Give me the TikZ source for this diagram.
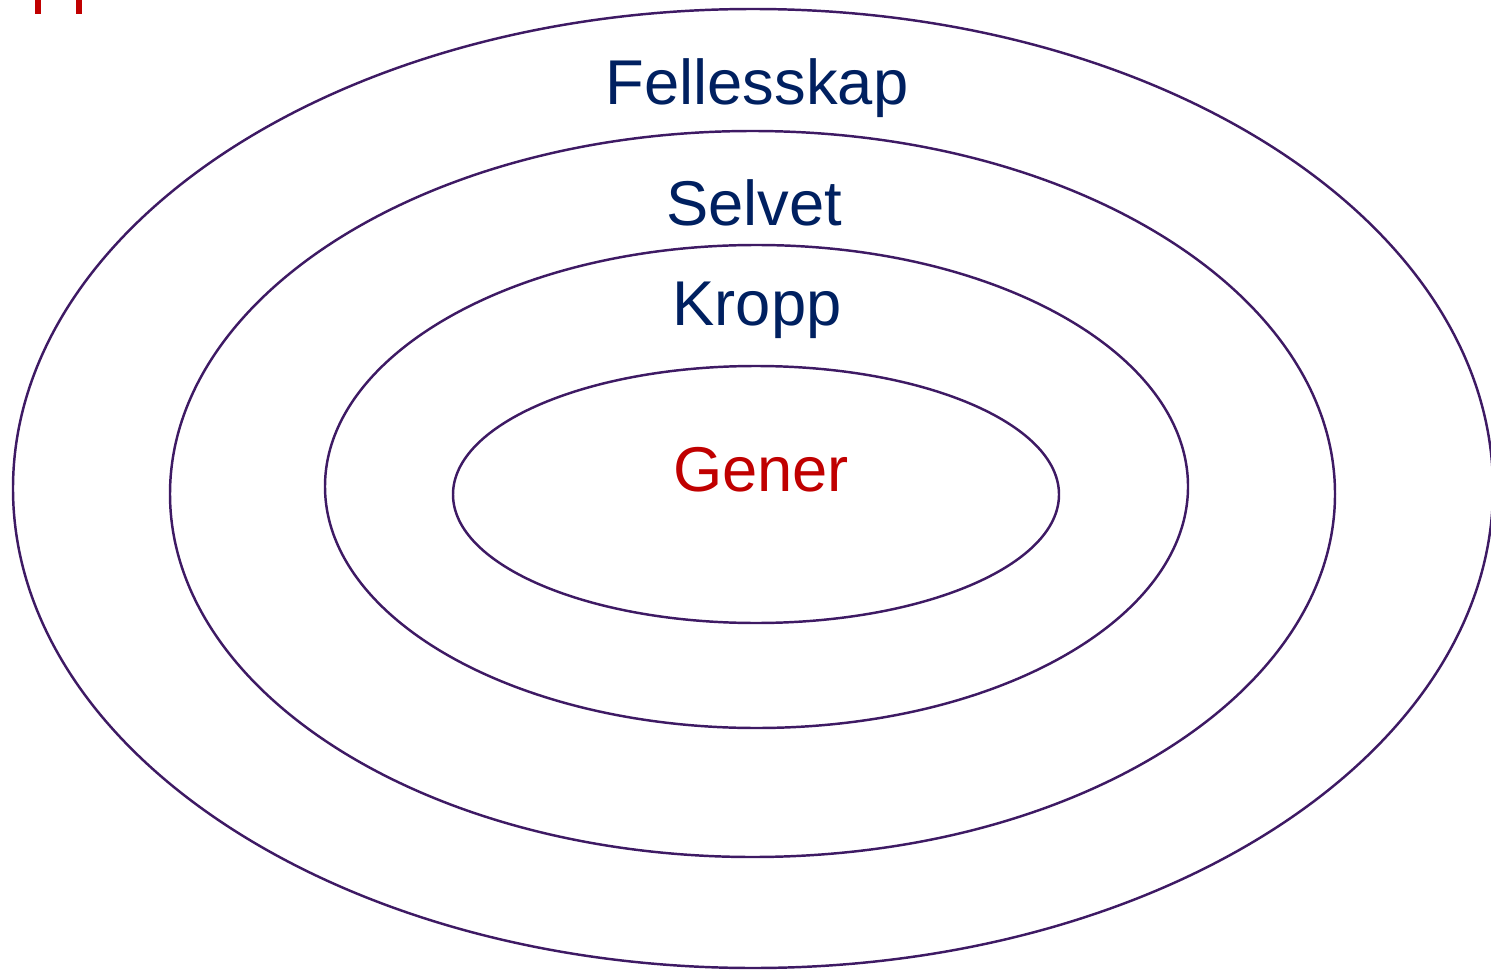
\documentclass[tikz,border=0pt]{standalone}
\usepackage{fontspec}
\setmainfont{Liberation Sans}
\definecolor{ringcol}{RGB}{62,26,100}
\definecolor{navy}{RGB}{0,32,96}
\definecolor{darkred}{RGB}{192,0,0}
\tikzset{
  ring/.style={
    draw=ringcol, line width=0.7pt
  },
  lbl/.style={
    text=navy, font=\fontsize{18}{21}\selectfont, inner sep=0mm
  },
  core/.style={
    text=darkred, font=\fontsize{18}{21}\selectfont, inner sep=0mm
  }
}

\begin{document}
\begin{tikzpicture}[x=0.01cm, y=-0.01cm]
  \useasboundingbox (0, 0) rectangle (1491, 970);
  \begin{scope}
   \clip (0, 0) rectangle (1491, 970);
   \draw[ring] (753, 488.5) ellipse [x radius=740, y radius=479.5];
   \draw[ring] (752.5, 494) ellipse [x radius=582.5, y radius=363];
   \draw[ring] (756.5, 486.5) ellipse [x radius=431.5, y radius=241.5];
   \draw[ring] (756, 494.5) ellipse [x radius=303, y radius=128.5];

   % cut-off red letters at the top edge
   \fill[darkred] (35, 0) rectangle (41, 14);
   \fill[darkred] (76, 0) rectangle (82, 14);
  \end{scope}

  \node[lbl] (fell) at (757, 88) {Fellesskap};
  \node[lbl] (selv) at (754, 203) {Selvet};
  \node[lbl] (kropp) at (757, 310) {Kropp};
  \node[core] (gener) at (761, 470) {Gener};
\end{tikzpicture}
\end{document}
